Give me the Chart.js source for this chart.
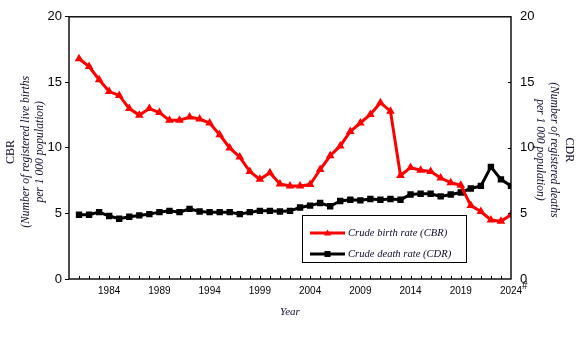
<!DOCTYPE html>
<html>
<head>
<meta charset="utf-8">
<script src="https://cdn.jsdelivr.net/npm/chart.js@4"></script>
<style>
html,body{margin:0;padding:0;background:#fff;}
#wrap{width:579px;height:341px;position:relative;}
</style>
</head>
<body>
<div id="wrap"><canvas id="c" width="579" height="341"></canvas></div>
<script>
const years = [1981,1982,1983,1984,1985,1986,1987,1988,1989,1990,1991,1992,1993,1994,1995,1996,1997,1998,1999,2000,2001,2002,2003,2004,2005,2006,2007,2008,2009,2010,2011,2012,2013,2014,2015,2016,2017,2018,2019,2020,2021,2022,2023,2024];
const cbr = [16.8,16.2,15.2,14.3,14.0,13.0,12.5,13.0,12.7,12.1,12.1,12.35,12.2,11.9,11.0,10.0,9.3,8.2,7.6,8.1,7.25,7.1,7.1,7.2,8.35,9.4,10.15,11.25,11.9,12.55,13.45,12.8,7.9,8.5,8.3,8.2,7.7,7.35,7.15,5.6,5.15,4.5,4.4,4.9];
const cdr = [4.9,4.9,5.1,4.8,4.6,4.75,4.85,4.95,5.1,5.2,5.1,5.35,5.15,5.1,5.1,5.1,4.95,5.1,5.2,5.2,5.15,5.2,5.45,5.6,5.8,5.55,5.95,6.05,6.0,6.1,6.05,6.1,6.05,6.45,6.5,6.5,6.3,6.45,6.6,6.9,7.1,8.55,7.6,7.1];
const xLabelYears = [1984,1989,1994,1999,2004,2009,2014,2019,2024];
const seriesNames = ['Crude birth rate (CBR)','Crude death rate (CDR)'];
const leftTitle = ['CBR','(Number of registered live births','per 1 000 population)'];
const rightTitle = ['CDR','(Number of registered deaths','per 1 000 population)'];
const xTitle = 'Year';

const RED = '#ff0000', BLACK = '#000000', TXT = '#0a0a2a';
const SERIF = '"Liberation Serif","Times New Roman",serif';
const SANS = '"Liberation Sans",Arial,sans-serif';

const decor = {
  id: 'decor',
  afterDraw(chart) {
    const {ctx, chartArea: a, scales} = chart;
    const xs = scales.x, yl = scales.y;
    ctx.save();
    ctx.strokeStyle = '#000'; ctx.lineWidth = 1.4;
    ctx.strokeRect(a.left, a.top, a.right - a.left, a.bottom - a.top);
    ctx.lineWidth = 1;
    for (let yr = 1981; yr <= 2023; yr++) {
      const px = Math.round(xs.getPixelForValue(yr)) + 0.5;
      ctx.beginPath(); ctx.moveTo(px, a.bottom); ctx.lineTo(px, a.bottom - 3); ctx.stroke();
    }
    for (let v = 5; v <= 15; v += 5) {
      const py = Math.round(yl.getPixelForValue(v)) + 0.5;
      ctx.beginPath(); ctx.moveTo(a.right, py); ctx.lineTo(a.right - 3, py); ctx.stroke();
    }
    ctx.fillStyle = '#000';
    ctx.font = '10px ' + SANS;
    ctx.textAlign = 'left'; ctx.textBaseline = 'middle';
    ctx.fillText('#', xs.getPixelForValue(2024) + 11, a.bottom + 7);

    ctx.fillStyle = TXT;
    const cy = (a.top + a.bottom) / 2 + 4;
    ctx.save();
    ctx.translate(11, cy); ctx.rotate(-Math.PI / 2);
    ctx.textAlign = 'center'; ctx.textBaseline = 'middle';
    ctx.font = '12px ' + SERIF; ctx.fillText(leftTitle[0], 0, 0);
    ctx.font = 'italic 11.6px ' + SERIF;
    ctx.fillText(leftTitle[1], 0, 15);
    ctx.fillText(leftTitle[2], 0, 29);
    ctx.restore();
    ctx.save();
    ctx.translate(569, cy - 2); ctx.rotate(Math.PI / 2);
    ctx.textAlign = 'center'; ctx.textBaseline = 'middle';
    ctx.font = '12px ' + SERIF; ctx.fillText(rightTitle[0], 0, 0);
    ctx.font = 'italic 11.6px ' + SERIF;
    ctx.fillText(rightTitle[1], 0, 15);
    ctx.fillText(rightTitle[2], 0, 29);
    ctx.restore();
    ctx.textAlign = 'center'; ctx.textBaseline = 'middle';
    ctx.font = 'italic 11px ' + SERIF;
    ctx.fillText(xTitle, (a.left + a.right) / 2, 312);

    const lx = 302, ly = 215, lw = 164, lh = 47;
    ctx.fillStyle = '#fff'; ctx.fillRect(lx, ly, lw, lh);
    ctx.strokeStyle = '#000'; ctx.lineWidth = 1;
    ctx.strokeRect(lx + 0.5, ly + 0.5, lw, lh);
    const rows = [{y: 233, c: RED, m: 'tri'}, {y: 254, c: BLACK, m: 'sq'}];
    rows.forEach((r, i) => {
      ctx.strokeStyle = r.c; ctx.fillStyle = r.c; ctx.lineWidth = 3;
      ctx.beginPath(); ctx.moveTo(310, r.y); ctx.lineTo(345, r.y); ctx.stroke();
      if (r.m === 'tri') {
        ctx.beginPath(); ctx.moveTo(327.5, r.y - 3.5); ctx.lineTo(331, r.y + 2.5); ctx.lineTo(324, r.y + 2.5); ctx.closePath(); ctx.fill();
      } else {
        ctx.fillRect(324.5, r.y - 3, 6, 6);
      }
      ctx.fillStyle = TXT;
      ctx.font = 'italic 10.6px ' + SERIF;
      ctx.textAlign = 'left'; ctx.textBaseline = 'middle';
      ctx.fillText(seriesNames[i], 348, r.y);
    });
    ctx.restore();
  }
};

new Chart(document.getElementById('c'), {
  type: 'line',
  data: {
    datasets: [
      {
        label: seriesNames[0],
        data: years.map((y, i) => ({x: y, y: cbr[i]})),
        borderColor: RED, backgroundColor: RED,
        borderWidth: 3, pointStyle: 'triangle', pointRadius: 2,
        tension: 0, yAxisID: 'y'
      },
      {
        label: seriesNames[1],
        data: years.map((y, i) => ({x: y, y: cdr[i]})),
        borderColor: BLACK, backgroundColor: BLACK,
        borderWidth: 3, pointStyle: 'rect', pointRadius: 2.4,
        tension: 0, yAxisID: 'y2'
      }
    ]
  },
  options: {
    responsive: false, animation: false,
    layout: {padding: {top: 15, left: 0, right: 0, bottom: 0}},
    plugins: {legend: {display: false}, tooltip: {enabled: false}},
    scales: {
      x: {
        type: 'linear', min: 1980, max: 2024,
        grid: {display: false, drawTicks: false},
        border: {display: false},
        afterBuildTicks(s) { s.ticks = xLabelYears.map(v => ({value: v})); },
        afterFit(s) { s.height = 62; },
        ticks: {
          autoSkip: false, maxRotation: 0, padding: 6, color: '#000',
          font: {family: SANS, size: 10},
          callback: v => String(v)
        }
      },
      y: {
        position: 'left', min: 0, max: 20,
        grid: {drawOnChartArea: false, tickLength: 4, color: '#000', lineWidth: 1},
        border: {display: false},
        afterFit(s) { s.width = 69; },
        ticks: {stepSize: 5, padding: 3, color: '#000', font: {family: SANS, size: 13}}
      },
      y2: {
        position: 'right', min: 0, max: 20,
        grid: {drawOnChartArea: false, drawTicks: false},
        border: {display: false},
        afterFit(s) { s.width = 68; },
        ticks: {stepSize: 5, padding: 9, color: '#000', font: {family: SANS, size: 13}}
      }
    }
  },
  plugins: [decor]
});
</script>
</body>
</html>
